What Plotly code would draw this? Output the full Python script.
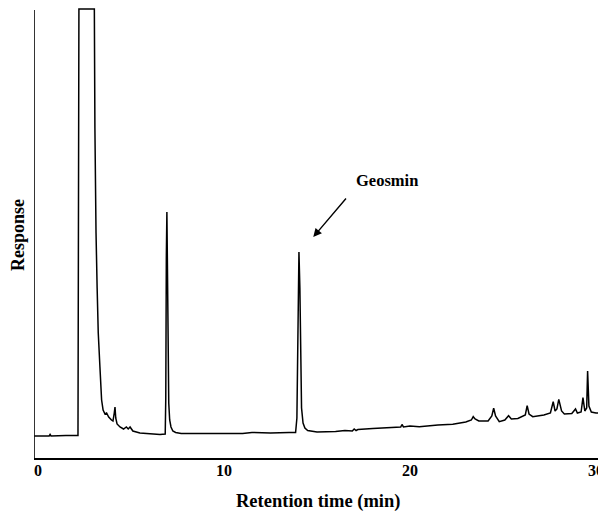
import plotly.graph_objects as go

# Digitized chromatogram (retention time in min, detector response in arbitrary units)
time_min = [
    -0.2, 0.6, 0.65, 0.7, 1.5, 2.15, 2.2, 3.03, 3.06, 3.08, 3.12, 3.18, 3.24, 3.33, 3.42,
    3.5, 3.6, 3.69, 3.8, 3.95, 4.03, 4.1, 4.14, 4.18, 4.25, 4.41, 4.6, 4.75, 4.85, 4.95,
    5.1, 5.48, 6.0, 6.56, 6.84, 6.87, 6.9, 6.93, 6.96, 6.99, 7.03, 7.08, 7.15, 7.25, 7.4,
    7.7, 8.5, 9.5, 10.5, 11.0, 11.5, 12.5, 13.5, 13.85, 13.92, 13.97, 14.03, 14.08, 14.12,
    14.17, 14.25, 14.35, 14.5, 14.8, 15.0, 16.0, 16.5, 16.9, 17.0, 17.1, 17.2, 18.0, 19.0,
    19.5, 19.57, 19.65, 20.0, 20.5, 21.5, 22.3, 23.0, 23.3, 23.4, 23.5, 23.7, 24.2, 24.4,
    24.5, 24.6, 24.8, 25.1, 25.3, 25.45, 25.8, 26.2, 26.3, 26.4, 26.6, 27.2, 27.55, 27.7,
    27.8, 27.9, 28.0, 28.15, 28.3, 28.7, 28.9, 29.0, 29.2, 29.3, 29.4, 29.5, 29.55, 29.62,
    29.75, 30.0, 30.3,
]
response = [
    22, 22, 23.5, 22, 22.5, 22.5, 449, 449, 330, 271, 225, 170, 125, 91, 58,
    48, 44, 45, 41, 38, 37, 45, 51, 40, 34, 31, 29, 31, 29, 31,
    27, 25, 24, 23.5, 24, 60, 200, 246, 190, 100, 55, 38, 31, 27, 25.5,
    24.5, 24.5, 24.5, 25, 24.5, 25.5, 25, 25.5, 25.5, 40, 150, 206, 170, 90,
    50, 35, 30, 27.5, 26.5, 26, 26.5, 27.5, 27, 29, 27.5, 28.5, 29.5, 30.5,
    31, 33.5, 31, 32, 31.3, 33, 33.7, 36, 38, 41.3, 39, 37, 37, 42,
    49.7, 42, 36.3, 38, 42.3, 39, 39.5, 43, 52.3, 44, 41.3, 43, 45, 56.3,
    47, 49, 58.7, 47, 44, 44.5, 49, 45, 46, 60.3, 47, 50, 87, 52,
    46, 45, 44.7,
]
x_ticks = [0, 10, 20, 30]
x_tick_labels = ["0", "10", "20", "30"]
peak_label = "Geosmin"
peak_arrow_tip = (14.8, 221)

X0, X1 = -0.215, 30.485
serif = "Liberation Serif, Times New Roman, serif"

fig = go.Figure()
fig.add_trace(go.Scatter(
    x=time_min, y=response, mode="lines",
    line=dict(color="black", width=1.5), hoverinfo="skip", showlegend=False,
))

# the page places the figure 8 px from the top-left corner; sizes compensate for that
fig.update_layout(
    width=598, height=506,
    margin=dict(l=26, r=1, t=0, b=56, autoexpand=False),
    paper_bgcolor="white", plot_bgcolor="white",
    xaxis=dict(
        range=[X0, X1], showgrid=False, zeroline=False, automargin=False,
        showline=True, linecolor="black", linewidth=2,
        tickmode="array", tickvals=x_ticks, ticktext=x_tick_labels,
        ticks="", ticklabelstandoff=-3,
        tickfont=dict(family=serif, size=16, color="black", weight="bold"),
    ),
    yaxis=dict(
        range=[0, 450], showgrid=False, zeroline=False, showline=False, automargin=False,
        showticklabels=False, ticks="",
    ),
    shapes=[dict(type="line", xref="x", yref="y", x0=X0, x1=X0, y0=0, y1=448,
                 line=dict(color="black", width=1.6))],
    annotations=[
        dict(text="<b>Retention time (min)</b>", xref="paper", yref="paper",
             x=0.5, y=0, xshift=-2, yshift=-43, xanchor="center", yanchor="middle",
             showarrow=False, font=dict(family=serif, size=18.5, color="black")),
        dict(text="<b>Response</b>", xref="paper", yref="paper",
             x=0, xshift=-16, y=0.5, yshift=-2, textangle=-90, xanchor="center",
             yanchor="middle", showarrow=False,
             font=dict(family=serif, size=18, color="black")),
        dict(text="", x=peak_arrow_tip[0], y=peak_arrow_tip[1], xref="x", yref="y",
             ax=34, ay=-40, showarrow=True, arrowhead=2, arrowsize=1.2, arrowwidth=1.4,
             arrowcolor="black"),
        dict(text="<b>" + peak_label + "</b>", x=18.75, y=278, xref="x", yref="y",
             showarrow=False, xanchor="center", yanchor="middle",
             font=dict(family=serif, size=16.5, color="black")),
    ],
)

fig.write_html("out.html")
